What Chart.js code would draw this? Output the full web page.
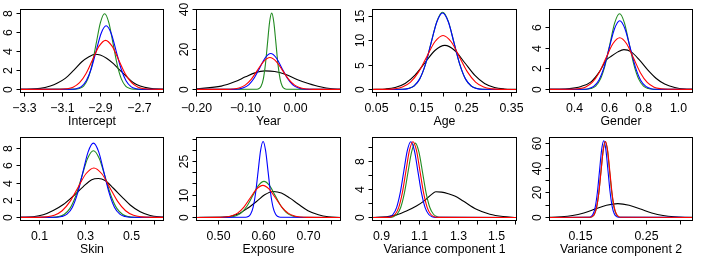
<!DOCTYPE html>
<html lang="en">
  <head>
    <meta charset="UTF-8" />
    <title>Posterior densities</title>
    <script src="https://cdn.jsdelivr.net/npm/chart.js"></script>
    <style>
      body {
        margin: 0;
        background: #ffffff;
      }
      #page {
        position: relative;
        width: 706px;
        height: 257px;
        overflow: hidden;
      }
      #page canvas {
        position: absolute;
      }
    </style>
  </head>
  <body>
    <div id="page"></div>

    <script>
      // ---- panel titles and axis limits ----
      const titles = ["Intercept", "Year", "Age", "Gender", "Skin", "Exposure", "Variance component 1", "Variance component 2"];
      const xLimits = [[-3.32, -2.572], [-0.2, 0.091], [0.0418, 0.3607], [0.2575, 1.079], [0.0157, 0.638], [0.451, 0.770], [0.853, 1.604], [0.1037, 0.3185]];
      const yLimits = [[-0.33, 8.39], [-1.55, 40.1], [-0.63, 16.43], [-0.30, 7.77], [-0.36, 9.32], [-1.37, 35.67], [-0.42, 11.4], [-2.5, 65]];

      // ---- tick marks and tick labels ----
      const xTicks = [
        [-3.3, -3.2, -3.1, -3.0, -2.9, -2.8, -2.7, -2.6],
        [-0.2, -0.15, -0.1, -0.05, 0, 0.05],
        [0.05, 0.1, 0.15, 0.2, 0.25, 0.3, 0.35],
        [0.4, 0.5, 0.6, 0.7, 0.8, 0.9, 1.0],
        [0.1, 0.2, 0.3, 0.4, 0.5, 0.6],
        [0.5, 0.55, 0.6, 0.65, 0.7, 0.75],
        [0.9, 1.0, 1.1, 1.2, 1.3, 1.4, 1.5, 1.6],
        [0.15, 0.2, 0.25, 0.3]
      ];
      const xTickLabels = [
        ["\u22123.3", "", "\u22123.1", "", "\u22122.9", "", "\u22122.7", ""],
        ["\u22120.20", "", "\u22120.10", "", "0.00", ""],
        ["0.05", "", "0.15", "", "0.25", "", "0.35"],
        ["0.4", "", "0.6", "", "0.8", "", "1.0"],
        ["0.1", "", "0.3", "", "0.5", ""],
        ["0.50", "", "0.60", "", "0.70", ""],
        ["0.9", "", "1.1", "", "1.3", "", "1.5", ""],
        ["0.15", "", "0.25", ""]
      ];
      const yTicks = [
        [0, 2, 4, 6, 8],
        [0, 10, 20, 30, 40],
        [0, 5, 10, 15],
        [0, 2, 4, 6],
        [0, 2, 4, 6, 8],
        [0, 5, 10, 15, 20, 25, 30, 35],
        [0, 2, 4, 6, 8, 10],
        [0, 10, 20, 30, 40, 50, 60]
      ];
      const yTickLabels = [
        ["0", "2", "4", "6", "8"],
        ["0", "", "20", "", "40"],
        ["0", "5", "10", "15"],
        ["0", "2", "4", "6"],
        ["0", "2", "4", "6", "8"],
        ["0", "", "10", "", "", "25", "", ""],
        ["0", "", "4", "", "8", ""],
        ["0", "", "20", "", "40", "", "60"]
      ];

      // ---- density curves (x, y) ----
      const interceptBlackX = [-3.32, -3.216, -3.164, -3.129, -3.086, -3.042, -2.999, -2.964, -2.929, -2.903, -2.868, -2.834, -2.799, -2.764, -2.729, -2.694, -2.642, -2.572];
      const interceptBlackY = [0, 0.1, 0.35, 0.63, 1.15, 2.0, 2.9, 3.4, 3.69, 3.6, 3.24, 2.7, 2.0, 1.32, 0.7, 0.35, 0.1, 0];
      const interceptRedX = [-3.32, -3.113, -3.079, -3.045, -3.011, -2.977, -2.943, -2.909, -2.875, -2.841, -2.807, -2.773, -2.739, -2.705, -2.671, -2.637, -2.572];
      const interceptRedY = [0, 0.01, 0.06, 0.23, 0.70, 1.67, 3.12, 4.54, 5.15, 4.54, 3.12, 1.67, 0.70, 0.23, 0.06, 0.01, 0];
      const interceptBlueX = [-3.32, -3.054, -3.028, -3.002, -2.976, -2.950, -2.924, -2.898, -2.872, -2.846, -2.820, -2.794, -2.768, -2.742, -2.716, -2.690, -2.572];
      const interceptBlueY = [0, 0.01, 0.07, 0.29, 0.90, 2.17, 4.05, 5.90, 6.68, 5.90, 4.05, 2.17, 0.90, 0.29, 0.07, 0.01, 0];
      const interceptGreenX = [-3.32, -3.034, -3.012, -2.990, -2.968, -2.946, -2.924, -2.902, -2.880, -2.858, -2.836, -2.814, -2.792, -2.770, -2.748, -2.726, -2.572];
      const interceptGreenY = [0, 0.02, 0.09, 0.35, 1.08, 2.58, 4.82, 7.02, 7.95, 7.02, 4.82, 2.58, 1.08, 0.35, 0.09, 0.02, 0];

      const yearBlackX = [-0.2, -0.15, -0.123, -0.101, -0.082, -0.062, -0.042, -0.021, 0.003, 0.026, 0.05, 0.074, 0.091];
      const yearBlackY = [0.3, 1.65, 3.8, 6.3, 8.3, 9.3, 9.0, 7.6, 5.0, 3.0, 1.3, 0.3, 0.05];
      const yearRedX = [-0.2, -0.1391, -0.1266, -0.1141, -0.1016, -0.0891, -0.0766, -0.0641, -0.0516, -0.0391, -0.0266, -0.0141, -0.0016, 0.0109, 0.0234, 0.0359, 0.091];
      const yearRedY = [0, 0.04, 0.18, 0.70, 2.16, 5.20, 9.70, 14.12, 16.0, 14.12, 9.70, 5.20, 2.16, 0.70, 0.18, 0.04, 0];
      const yearBlueX = [-0.2, -0.127, -0.116, -0.105, -0.094, -0.083, -0.072, -0.061, -0.050, -0.039, -0.028, -0.017, -0.006, 0.005, 0.016, 0.027, 0.091];
      const yearBlueY = [0, 0.04, 0.20, 0.79, 2.44, 5.84, 10.92, 15.89, 18.0, 15.89, 10.92, 5.84, 2.44, 0.79, 0.20, 0.04, 0];
      const yearGreenX = [-0.2, -0.0778, -0.0735, -0.0693, -0.0650, -0.0608, -0.0565, -0.0523, -0.0480, -0.0438, -0.0395, -0.0353, -0.0310, -0.0268, -0.0225, -0.0183, 0.091];
      const yearGreenY = [0, 0.08, 0.43, 1.68, 5.18, 12.44, 23.23, 33.80, 38.3, 33.80, 23.23, 12.44, 5.18, 1.68, 0.43, 0.08, 0];

      const ageBlackX = [0.0418, 0.048, 0.070, 0.092, 0.114, 0.136, 0.158, 0.180, 0.202, 0.224, 0.246, 0.268, 0.290, 0.312, 0.334, 0.356, 0.3607];
      const ageBlackY = [0, 0.02, 0.10, 0.40, 1.23, 2.94, 5.49, 8.00, 9.06, 8.00, 5.49, 2.94, 1.23, 0.40, 0.10, 0.02, 0];
      const ageRedX = [0.0418, 0.072, 0.090, 0.108, 0.126, 0.144, 0.162, 0.180, 0.198, 0.216, 0.234, 0.252, 0.270, 0.288, 0.306, 0.324, 0.3607];
      const ageRedY = [0, 0.02, 0.12, 0.49, 1.50, 3.60, 6.73, 9.80, 11.1, 9.80, 6.73, 3.60, 1.50, 0.49, 0.12, 0.02, 0];
      const ageBlueX = [0.0418, 0.1078, 0.1205, 0.1333, 0.1460, 0.1588, 0.1715, 0.1843, 0.197, 0.2098, 0.2225, 0.2353, 0.2480, 0.2608, 0.2735, 0.2863, 0.3607];
      const ageBlueY = [0, 0.03, 0.17, 0.69, 2.12, 5.10, 9.52, 13.86, 15.7, 13.86, 9.52, 5.10, 2.12, 0.69, 0.17, 0.03, 0];
      const ageGreenX = [0.0418, 0.1085, 0.1211, 0.1338, 0.1464, 0.1591, 0.1717, 0.1844, 0.197, 0.2097, 0.2223, 0.2350, 0.2476, 0.2603, 0.2729, 0.2856, 0.3607];
      const ageGreenY = [0, 0.03, 0.18, 0.70, 2.14, 5.15, 9.61, 13.99, 15.85, 13.99, 9.61, 5.15, 2.14, 0.70, 0.18, 0.03, 0];

      const genderBlackX = [0.2575, 0.361, 0.439, 0.496, 0.544, 0.583, 0.612, 0.650, 0.685, 0.727, 0.775, 0.823, 0.871, 0.919, 0.977, 1.035, 1.079];
      const genderBlackY = [0, 0.06, 0.29, 0.74, 1.71, 2.84, 3.23, 3.65, 3.87, 3.65, 2.84, 1.87, 1.06, 0.52, 0.19, 0.03, 0];
      const genderRedX = [0.2575, 0.3845, 0.424, 0.4635, 0.503, 0.5425, 0.582, 0.6215, 0.661, 0.7005, 0.740, 0.7795, 0.819, 0.8585, 0.898, 0.9375, 1.079];
      const genderRedY = [0, 0.01, 0.06, 0.22, 0.68, 1.63, 3.05, 4.44, 5.03, 4.44, 3.05, 1.63, 0.68, 0.22, 0.06, 0.01, 0];
      const genderBlueX = [0.2575, 0.451, 0.481, 0.511, 0.541, 0.571, 0.601, 0.631, 0.661, 0.691, 0.721, 0.751, 0.781, 0.811, 0.841, 0.871, 1.079];
      const genderBlueY = [0, 0.01, 0.07, 0.29, 0.90, 2.17, 4.05, 5.90, 6.68, 5.90, 4.05, 2.17, 0.90, 0.29, 0.07, 0.01, 0];
      const genderGreenX = [0.2575, 0.4675, 0.495, 0.5225, 0.550, 0.5775, 0.605, 0.6325, 0.660, 0.6875, 0.715, 0.7425, 0.770, 0.7975, 0.825, 0.8525, 1.079];
      const genderGreenY = [0, 0.02, 0.08, 0.32, 1.00, 2.39, 4.46, 6.50, 7.36, 6.50, 4.46, 2.39, 1.00, 0.32, 0.08, 0.02, 0];

      const skinBlackX = [0.0157, 0.0708, 0.1146, 0.158, 0.2019, 0.2456, 0.289, 0.3257, 0.3546, 0.3838, 0.42, 0.4567, 0.493, 0.5367, 0.58, 0.638];
      const skinBlackY = [0, 0.08, 0.3, 0.8, 1.5, 2.5, 3.6, 4.4, 4.54, 4.3, 3.4, 2.4, 1.45, 0.65, 0.22, 0.03];
      const skinRedX = [0.0157, 0.0935, 0.128, 0.1625, 0.197, 0.2315, 0.266, 0.3005, 0.335, 0.3695, 0.404, 0.4385, 0.473, 0.5075, 0.542, 0.5765, 0.638];
      const skinRedY = [0, 0.01, 0.06, 0.25, 0.78, 1.87, 3.50, 5.09, 5.77, 5.09, 3.50, 1.87, 0.78, 0.25, 0.06, 0.01, 0];
      const skinBlueX = [0.0157, 0.172, 0.195, 0.218, 0.241, 0.264, 0.287, 0.310, 0.333, 0.356, 0.379, 0.402, 0.425, 0.448, 0.471, 0.494, 0.638];
      const skinBlueY = [0, 0.02, 0.10, 0.38, 1.17, 2.81, 5.25, 7.64, 8.66, 7.64, 5.25, 2.81, 1.17, 0.38, 0.10, 0.02, 0];
      const skinGreenX = [0.0157, 0.1545, 0.180, 0.2055, 0.231, 0.2565, 0.282, 0.3075, 0.333, 0.3585, 0.384, 0.4095, 0.435, 0.4605, 0.486, 0.5115, 0.638];
      const skinGreenY = [0, 0.02, 0.09, 0.34, 1.05, 2.53, 4.72, 6.87, 7.78, 6.87, 4.72, 2.53, 1.05, 0.34, 0.09, 0.02, 0];

      const exposureBlackX = [0.451, 0.513, 0.543, 0.565, 0.584, 0.602, 0.621, 0.639, 0.658, 0.676, 0.698, 0.721, 0.743, 0.770];
      const exposureBlackY = [0, 0.15, 1.5, 4.2, 7.1, 10.1, 11.6, 10.9, 8.6, 6.0, 3.0, 1.2, 0.3, 0];
      const exposureRedX = [0.451, 0.500, 0.514, 0.528, 0.542, 0.556, 0.570, 0.584, 0.598, 0.612, 0.626, 0.640, 0.654, 0.668, 0.682, 0.696, 0.770];
      const exposureRedY = [0, 0.03, 0.16, 0.63, 1.93, 4.64, 8.67, 12.62, 14.3, 12.62, 8.67, 4.64, 1.93, 0.63, 0.16, 0.03, 0];
      const exposureBlueX = [0.451, 0.5600, 0.5655, 0.5710, 0.5765, 0.5820, 0.5875, 0.5930, 0.5985, 0.6040, 0.6095, 0.6150, 0.6205, 0.6260, 0.6315, 0.6370, 0.770];
      const exposureBlueY = [0, 0.07, 0.38, 1.49, 4.59, 11.01, 20.56, 29.92, 33.9, 29.92, 20.56, 11.01, 4.59, 1.49, 0.38, 0.07, 0];
      const exposureGreenX = [0.451, 0.5137, 0.5261, 0.5385, 0.5509, 0.5633, 0.5757, 0.5881, 0.6005, 0.6129, 0.6253, 0.6377, 0.6501, 0.6625, 0.6749, 0.6873, 0.770];
      const exposureGreenY = [0, 0.04, 0.18, 0.71, 2.18, 5.23, 9.76, 14.21, 16.1, 14.21, 9.76, 5.23, 2.18, 0.71, 0.18, 0.04, 0];

      const var1BlackX = [0.853, 0.926, 0.978, 1.030, 1.082, 1.126, 1.161, 1.183, 1.213, 1.248, 1.282, 1.326, 1.395, 1.465, 1.534, 1.604];
      const var1BlackY = [0, 0.1, 0.38, 0.94, 1.65, 2.45, 3.3, 3.67, 3.62, 3.39, 3.06, 2.35, 1.18, 0.47, 0.14, 0];
      const var1RedX = [0.853, 0.9345, 0.953, 0.9715, 0.990, 1.0085, 1.027, 1.0455, 1.064, 1.0825, 1.101, 1.1195, 1.138, 1.1565, 1.175, 1.1935, 1.604];
      const var1RedY = [0, 0.02, 0.12, 0.47, 1.46, 3.51, 6.55, 9.53, 10.8, 9.53, 6.55, 3.51, 1.46, 0.47, 0.12, 0.02, 0];
      const var1BlueX = [0.853, 0.9235, 0.942, 0.9605, 0.979, 0.9975, 1.016, 1.0345, 1.053, 1.0715, 1.090, 1.1085, 1.127, 1.1455, 1.164, 1.1825, 1.604];
      const var1BlueY = [0, 0.02, 0.12, 0.47, 1.46, 3.51, 6.55, 9.53, 10.8, 9.53, 6.55, 3.51, 1.46, 0.47, 0.12, 0.02, 0];
      const var1GreenX = [0.853, 0.943, 0.962, 0.981, 1.000, 1.019, 1.038, 1.057, 1.076, 1.095, 1.114, 1.133, 1.152, 1.171, 1.190, 1.209, 1.604];
      const var1GreenY = [0, 0.02, 0.12, 0.47, 1.43, 3.44, 6.43, 9.35, 10.6, 9.35, 6.43, 3.44, 1.43, 0.47, 0.12, 0.02, 0];

      const var2BlackX = [0.0873, 0.1043, 0.1213, 0.1383, 0.1553, 0.1723, 0.1893, 0.2063, 0.2233, 0.2403, 0.2573, 0.2743, 0.2913, 0.3083, 0.3253];
      const var2BlackY = [0.02, 0.12, 0.49, 1.52, 3.64, 6.79, 9.88, 11.2, 9.88, 6.79, 3.64, 1.52, 0.49, 0.12, 0.02];
      const var2RedX = [0.1037, 0.1646, 0.1679, 0.1712, 0.1745, 0.1778, 0.1811, 0.1844, 0.1877, 0.1910, 0.1943, 0.1976, 0.2009, 0.2042, 0.2075, 0.2108, 0.3185];
      const var2RedY = [0, 0.14, 0.69, 2.71, 8.36, 20.07, 37.48, 54.54, 61.8, 54.54, 37.48, 20.07, 8.36, 2.71, 0.69, 0.14, 0];
      const var2BlueX = [0.1037, 0.1628, 0.1660, 0.1692, 0.1724, 0.1756, 0.1788, 0.1820, 0.1852, 0.1884, 0.1916, 0.1948, 0.1980, 0.2012, 0.2044, 0.2076, 0.3185];
      const var2BlueY = [0, 0.14, 0.69, 2.73, 8.43, 20.23, 37.79, 54.98, 62.3, 54.98, 37.79, 20.23, 8.43, 2.73, 0.69, 0.14, 0];
      const var2GreenX = [0.1037, 0.1648, 0.1680, 0.1713, 0.1745, 0.1778, 0.1810, 0.1843, 0.1875, 0.1908, 0.1940, 0.1973, 0.2005, 0.2038, 0.2070, 0.2103, 0.3185];
      const var2GreenY = [0, 0.14, 0.68, 2.70, 8.32, 19.97, 37.30, 54.27, 61.5, 54.27, 37.30, 19.97, 8.32, 2.70, 0.68, 0.14, 0];

      // curves per panel, in the order black, red, blue, green
      const curves = [
        [[interceptBlackX, interceptBlackY], [interceptRedX, interceptRedY], [interceptBlueX, interceptBlueY], [interceptGreenX, interceptGreenY]],
        [[yearBlackX, yearBlackY], [yearRedX, yearRedY], [yearBlueX, yearBlueY], [yearGreenX, yearGreenY]],
        [[ageBlackX, ageBlackY], [ageRedX, ageRedY], [ageBlueX, ageBlueY], [ageGreenX, ageGreenY]],
        [[genderBlackX, genderBlackY], [genderRedX, genderRedY], [genderBlueX, genderBlueY], [genderGreenX, genderGreenY]],
        [[skinBlackX, skinBlackY], [skinRedX, skinRedY], [skinBlueX, skinBlueY], [skinGreenX, skinGreenY]],
        [[exposureBlackX, exposureBlackY], [exposureRedX, exposureRedY], [exposureBlueX, exposureBlueY], [exposureGreenX, exposureGreenY]],
        [[var1BlackX, var1BlackY], [var1RedX, var1RedY], [var1BlueX, var1BlueY], [var1GreenX, var1GreenY]],
        [[var2BlackX, var2BlackY], [var2RedX, var2RedY], [var2BlueX, var2BlueY], [var2GreenX, var2GreenY]]
      ];
      const curveColors = ["#000000", "#ff0000", "#0000ff", "#228b22"];

      // ---- layout (2 rows x 4 columns, R style plot boxes) ----
      const FONT = '12.3px "Liberation Sans", Arial, sans-serif';
      const colX = [0, 176, 352, 529];
      const colW = [176, 176, 177, 177];
      const rowY = [0, 128];
      const rowH = [128, 129];
      const boxL = [20.5, 196.5, 372.5, 549.5];
      const boxR = [163.5, 340.5, 516.5, 692.5];
      const boxT = [9.5, 137.5];
      const boxB = [92.5, 220.5];

      // draws box, ticks, tick labels and axis title like base R graphics
      const rAxes = {
        id: "rAxes",
        afterDraw(chart, args, opts) {
          const ctx = chart.ctx;
          const a = chart.chartArea;
          const xs = chart.scales.x;
          const ys = chart.scales.y;
          const i = opts.index;
          ctx.save();
          ctx.strokeStyle = "#000";
          ctx.lineWidth = 1;
          ctx.strokeRect(a.left, a.top, a.right - a.left, a.bottom - a.top);
          ctx.fillStyle = "#000";
          ctx.font = FONT;
          ctx.textAlign = "center";
          ctx.textBaseline = "alphabetic";

          xTicks[i].forEach((v, k) => {
            const px = Math.round(xs.getPixelForValue(v) - 0.5) + 0.5;
            ctx.beginPath();
            ctx.moveTo(px, a.bottom);
            ctx.lineTo(px, a.bottom + 4);
            ctx.stroke();
            if (xTickLabels[i][k]) ctx.fillText(xTickLabels[i][k], px, a.bottom + 19);
          });

          yTicks[i].forEach((v, k) => {
            const py = Math.round(ys.getPixelForValue(v) - 0.5) + 0.5;
            ctx.beginPath();
            ctx.moveTo(a.left - 4, py);
            ctx.lineTo(a.left, py);
            ctx.stroke();
            if (yTickLabels[i][k]) {
              ctx.save();
              ctx.translate(a.left - 9, py);
              ctx.rotate(-Math.PI / 2);
              ctx.fillText(yTickLabels[i][k], 0, 0);
              ctx.restore();
            }
          });

          ctx.fillText(titles[i], (a.left + a.right) / 2, a.bottom + 32.5);
          ctx.restore();
        }
      };

      function createPanel(i) {
        const c = i % 4;
        const r = Math.floor(i / 4);
        const canvas = document.createElement("canvas");
        canvas.width = colW[c];
        canvas.height = rowH[r];
        canvas.style.left = colX[c] + "px";
        canvas.style.top = rowY[r] + "px";
        canvas.style.width = colW[c] + "px";
        canvas.style.height = rowH[r] + "px";
        document.getElementById("page").appendChild(canvas);

        // red on top, then blue, green, black underneath
        const drawOrder = [1, 2, 3, 0];
        const datasets = drawOrder.map((k) => ({
          data: curves[i][k][0].map((x, j) => ({ x: x, y: curves[i][k][1][j] })),
          borderColor: curveColors[k],
          borderWidth: 1.1,
          showLine: true,
          pointRadius: 0,
          cubicInterpolationMode: "monotone"
        }));

        new Chart(canvas.getContext("2d"), {
          type: "scatter",
          data: { datasets: datasets },
          options: {
            responsive: false,
            animation: false,
            devicePixelRatio: 1,
            events: [],
            layout: {
              padding: {
                left: boxL[c] - colX[c],
                right: colX[c] + colW[c] - boxR[c],
                top: boxT[r] - rowY[r],
                bottom: rowY[r] + rowH[r] - boxB[r]
              }
            },
            scales: {
              x: { type: "linear", min: xLimits[i][0], max: xLimits[i][1], display: false },
              y: { type: "linear", min: yLimits[i][0], max: yLimits[i][1], display: false }
            },
            plugins: {
              legend: { display: false },
              tooltip: { enabled: false },
              rAxes: { index: i }
            }
          },
          plugins: [rAxes]
        });
      }

      document.addEventListener("DOMContentLoaded", () => {
        for (let i = 0; i < 8; i++) createPanel(i);
      });
    </script>
  </body>
</html>
